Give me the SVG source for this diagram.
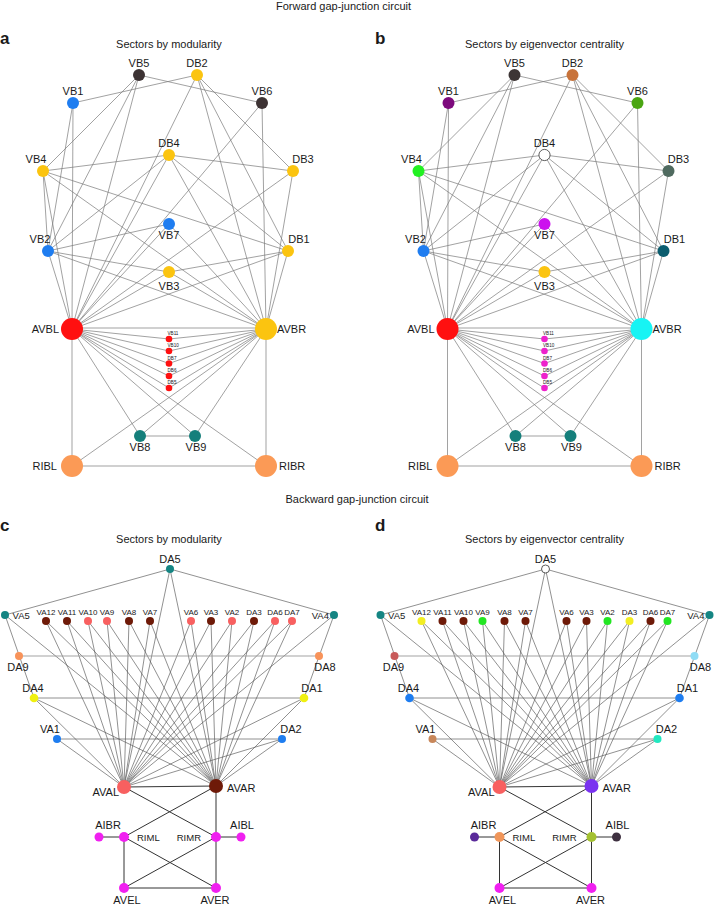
<svg xmlns="http://www.w3.org/2000/svg" xmlns:xlink="http://www.w3.org/1999/xlink" width="714" height="905" viewBox="0 0 714 905">
<style>
text{font-family:"Liberation Sans",Arial,Helvetica,sans-serif;fill:#1a1a1a}
.t{font-size:11px}
.m{text-anchor:middle}
.e{text-anchor:end}
.s{font-size:4.6px}
.r{font-size:8px;text-anchor:middle}
.rm{font-size:9.5px}
.h{font-size:11px;text-anchor:middle}
.p{font-size:17px;font-weight:bold}
.ef line{stroke:#7a7a7a;stroke-width:0.7}
.eb line{stroke:#555;stroke-width:0.65}
.eb .k{stroke:#333;stroke-width:1}
.eb .g{stroke:#999;stroke-width:0.9}
circle{stroke:none}
.w{fill:#fff;stroke:#333;stroke-width:0.8}
</style>
<defs>
<g id="fwd-edges" class="ef">
<line x1="73" y1="103" x2="197" y2="75"/>
<line x1="139" y1="75" x2="262" y2="103"/>
<line x1="139" y1="75" x2="43" y2="171"/>
<line x1="139" y1="75" x2="48" y2="251"/>
<line x1="139" y1="75" x2="72" y2="329"/>
<line x1="43" y1="171" x2="169" y2="155"/>
<line x1="169" y1="155" x2="293" y2="171"/>
<line x1="197" y1="75" x2="293" y2="171"/>
<line x1="197" y1="75" x2="288" y2="251"/>
<line x1="197" y1="75" x2="266" y2="329"/>
<line x1="197" y1="75" x2="72" y2="329"/>
<line x1="43" y1="171" x2="288" y2="251"/>
<line x1="43" y1="171" x2="48" y2="251"/>
<line x1="43" y1="171" x2="72" y2="329"/>
<line x1="43" y1="171" x2="266" y2="329"/>
<line x1="48" y1="251" x2="169" y2="224"/>
<line x1="48" y1="251" x2="169" y2="272"/>
<line x1="48" y1="251" x2="169" y2="155"/>
<line x1="48" y1="251" x2="72" y2="329"/>
<line x1="48" y1="251" x2="266" y2="329"/>
<line x1="169" y1="272" x2="288" y2="251"/>
<line x1="169" y1="272" x2="72" y2="329"/>
<line x1="169" y1="272" x2="266" y2="329"/>
<line x1="169" y1="224" x2="72" y2="329"/>
<line x1="169" y1="224" x2="266" y2="329"/>
<line x1="169" y1="155" x2="72" y2="329"/>
<line x1="169" y1="155" x2="266" y2="329"/>
<line x1="169" y1="155" x2="288" y2="251"/>
<line x1="262" y1="103" x2="266" y2="329"/>
<line x1="262" y1="103" x2="72" y2="329"/>
<line x1="293" y1="171" x2="72" y2="329"/>
<line x1="293" y1="171" x2="266" y2="329"/>
<line x1="288" y1="251" x2="72" y2="329"/>
<line x1="288" y1="251" x2="266" y2="329"/>
<line x1="73" y1="103" x2="72" y2="329"/>
<line x1="73" y1="103" x2="48" y2="251"/>
<line x1="72" y1="328" x2="266" y2="328"/>
<line x1="72" y1="329" x2="169" y2="339"/>
<line x1="72" y1="329" x2="169" y2="351"/>
<line x1="72" y1="329" x2="169" y2="363.5"/>
<line x1="72" y1="329" x2="169" y2="376"/>
<line x1="72" y1="329" x2="169" y2="388"/>
<line x1="266" y1="329" x2="169" y2="339"/>
<line x1="266" y1="329" x2="169" y2="351"/>
<line x1="266" y1="329" x2="169" y2="363.5"/>
<line x1="266" y1="329" x2="169" y2="376"/>
<line x1="266" y1="329" x2="169" y2="388"/>
<line x1="140" y1="436" x2="195" y2="436"/>
<line x1="140" y1="436" x2="72" y2="329"/>
<line x1="140" y1="436" x2="266" y2="329"/>
<line x1="195" y1="436" x2="72" y2="329"/>
<line x1="195" y1="436" x2="266" y2="329"/>
<line x1="72" y1="329" x2="72" y2="466"/>
<line x1="266" y1="329" x2="266" y2="466"/>
<line x1="72" y1="466" x2="266" y2="466"/>
<line x1="72" y1="329" x2="266" y2="466"/>
<line x1="266" y1="329" x2="72" y2="466"/>
</g>
<g id="bwd-edges" class="eb">
<line x1="170" y1="569" x2="5" y2="615"/>
<line x1="170" y1="569" x2="334" y2="615"/>
<line x1="170" y1="569" x2="124" y2="787"/>
<line x1="170" y1="569" x2="216" y2="786"/>
<line x1="5" y1="615" x2="34" y2="698"/>
<line x1="5" y1="615" x2="216" y2="786"/>
<line x1="334" y1="615" x2="304" y2="698"/>
<line x1="334" y1="615" x2="124" y2="787"/>
<line x1="46" y1="621" x2="124" y2="787"/><line x1="46" y1="621" x2="216" y2="786"/>
<line x1="67" y1="621" x2="124" y2="787"/><line x1="67" y1="621" x2="216" y2="786"/>
<line x1="88" y1="621" x2="124" y2="787"/><line x1="88" y1="621" x2="216" y2="786"/>
<line x1="107" y1="621" x2="124" y2="787"/><line x1="107" y1="621" x2="216" y2="786"/>
<line x1="129" y1="621" x2="124" y2="787"/><line x1="129" y1="621" x2="216" y2="786"/>
<line x1="150" y1="621" x2="124" y2="787"/><line x1="150" y1="621" x2="216" y2="786"/>
<line x1="191" y1="621" x2="124" y2="787"/><line x1="191" y1="621" x2="216" y2="786"/>
<line x1="211" y1="621" x2="124" y2="787"/><line x1="211" y1="621" x2="216" y2="786"/>
<line x1="232" y1="621" x2="124" y2="787"/><line x1="232" y1="621" x2="216" y2="786"/>
<line x1="254" y1="621" x2="124" y2="787"/><line x1="254" y1="621" x2="216" y2="786"/>
<line x1="275" y1="621" x2="124" y2="787"/><line x1="275" y1="621" x2="216" y2="786"/>
<line x1="292" y1="621" x2="124" y2="787"/><line x1="292" y1="621" x2="216" y2="786"/>
<line x1="34" y1="698" x2="304" y2="698"/>
<line x1="34" y1="698" x2="124" y2="787"/>
<line x1="34" y1="698" x2="216" y2="786"/>
<line x1="304" y1="698" x2="124" y2="787"/>
<line x1="304" y1="698" x2="216" y2="786"/>
<line x1="57" y1="739" x2="282" y2="739"/>
<line x1="57" y1="739" x2="124" y2="787"/>
<line x1="282" y1="739" x2="124" y2="787"/>
<line x1="282" y1="739" x2="216" y2="786"/>
<line class="g" x1="19" y1="656" x2="319" y2="656"/>
<line class="k" x1="124" y1="787" x2="216" y2="786"/>
<line class="k" x1="124" y1="787" x2="216" y2="837"/>
<line class="k" x1="216" y1="786" x2="124" y2="837"/>
<line class="k" x1="216" y1="786" x2="216" y2="837"/>
<line class="k" x1="99" y1="837" x2="124" y2="837"/>
<line class="k" x1="216" y1="837" x2="241" y2="837"/>
<line class="k" x1="124" y1="837" x2="124" y2="888"/>
<line class="k" x1="216" y1="837" x2="216" y2="888"/>
<line class="k" x1="124" y1="837" x2="216" y2="888"/>
<line class="k" x1="216" y1="837" x2="124" y2="888"/>
<line class="k" x1="124" y1="888" x2="216" y2="888"/>
</g>
</defs>

<g id="titles">
<text class="h" x="343.5" y="9.5">Forward gap-junction circuit</text>
<text class="h" x="357" y="503">Backward gap-junction circuit</text>
<text class="p" x="0" y="44">a</text>
<text class="p" x="375" y="44">b</text>
<text class="p" x="0" y="531">c</text>
<text class="p" x="375" y="531">d</text>
<text class="h" x="169" y="48">Sectors by modularity</text>
<text class="h" x="544.5" y="48">Sectors by eigenvector centrality</text>
<text class="h" x="169" y="543">Sectors by modularity</text>
<text class="h" x="544.5" y="543">Sectors by eigenvector centrality</text>
</g>

<g id="connectors-a"><use xlink:href="#fwd-edges"/></g>
<g id="connectors-b"><use xlink:href="#fwd-edges" transform="translate(375.5,0)"/></g>
<g id="connectors-c"><use xlink:href="#bwd-edges"/></g>
<g id="connectors-d"><use xlink:href="#bwd-edges" transform="translate(375.5,0)"/></g>

<g id="panel-a" class="t">
<g id="a-VB5"><circle cx="139" cy="75" r="6" fill="#3d3334"/><text class="m" x="139" y="67">VB5</text></g>
<g id="a-DB2"><circle cx="197" cy="75" r="6" fill="#fbc410"/><text class="m" x="197" y="67">DB2</text></g>
<g id="a-VB1"><circle cx="73" cy="103" r="6" fill="#1f7df0"/><text class="m" x="73" y="95">VB1</text></g>
<g id="a-VB6"><circle cx="262" cy="103" r="6" fill="#3d3334"/><text class="m" x="262" y="95">VB6</text></g>
<g id="a-DB4"><circle cx="169" cy="155" r="6" fill="#fbc410"/><text class="m" x="169" y="147">DB4</text></g>
<g id="a-VB4"><circle cx="43" cy="171" r="6" fill="#fbc410"/><text class="m" x="36" y="163">VB4</text></g>
<g id="a-DB3"><circle cx="293" cy="171" r="6" fill="#fbc410"/><text class="m" x="303" y="163">DB3</text></g>
<g id="a-VB7"><circle cx="169" cy="224" r="6" fill="#1f7df0"/><text class="m" x="169" y="239">VB7</text></g>
<g id="a-VB2"><circle cx="48" cy="251" r="6" fill="#1f7df0"/><text class="m" x="40" y="243">VB2</text></g>
<g id="a-DB1"><circle cx="288" cy="251" r="6" fill="#fbc410"/><text class="m" x="299" y="243">DB1</text></g>
<g id="a-VB3"><circle cx="169" cy="272" r="6" fill="#fbc410"/><text class="m" x="169" y="290">VB3</text></g>
<g id="a-AVBL"><circle cx="72" cy="329" r="11" fill="#ff1010"/><text class="e" x="59" y="333">AVBL</text></g>
<g id="a-AVBR"><circle cx="266" cy="329" r="11" fill="#fbc410"/><text x="277" y="333">AVBR</text></g>
<g id="a-VB11"><circle cx="169" cy="339" r="3.3" fill="#ff1010"/><text class="s" x="167.5" y="335.3">VB11</text></g>
<g id="a-VB10"><circle cx="169" cy="351" r="3.3" fill="#ff1010"/><text class="s" x="167.5" y="347.3">VB10</text></g>
<g id="a-DB7"><circle cx="169" cy="363.5" r="3.3" fill="#ff1010"/><text class="s" x="167.5" y="359.8">DB7</text></g>
<g id="a-DB6"><circle cx="169" cy="376" r="3.3" fill="#ff1010"/><text class="s" x="167.5" y="372.3">DB6</text></g>
<g id="a-DB5"><circle cx="169" cy="388" r="3.3" fill="#ff1010"/><text class="s" x="167.5" y="384.3">DB5</text></g>
<g id="a-VB8"><circle cx="140" cy="436" r="6" fill="#157f7b"/><text class="m" x="140" y="451">VB8</text></g>
<g id="a-VB9"><circle cx="195" cy="436" r="6" fill="#157f7b"/><text class="m" x="196" y="451">VB9</text></g>
<g id="a-RIBL"><circle cx="72" cy="466" r="11" fill="#fb9a56"/><text class="e" x="57" y="470">RIBL</text></g>
<g id="a-RIBR"><circle cx="266" cy="466" r="11" fill="#fb9a56"/><text x="279" y="470">RIBR</text></g>
</g>

<g id="panel-b" class="t" transform="translate(375.5,0)">
<g id="b-VB5"><circle cx="139" cy="75" r="6" fill="#3d3535"/><text class="m" x="139" y="67">VB5</text></g>
<g id="b-DB2"><circle cx="197" cy="75" r="6" fill="#c8733a"/><text class="m" x="197" y="67">DB2</text></g>
<g id="b-VB1"><circle cx="73" cy="103" r="6" fill="#7d0a7d"/><text class="m" x="73" y="95">VB1</text></g>
<g id="b-VB6"><circle cx="262" cy="103" r="6" fill="#4aa512"/><text class="m" x="262" y="95">VB6</text></g>
<g id="b-DB4"><circle class="w" cx="169" cy="155" r="5.6"/><text class="m" x="169" y="147">DB4</text></g>
<g id="b-VB4"><circle cx="43" cy="171" r="6" fill="#22f022"/><text class="m" x="36" y="163">VB4</text></g>
<g id="b-DB3"><circle cx="293" cy="171" r="6" fill="#4f6a5f"/><text class="m" x="303" y="163">DB3</text></g>
<g id="b-VB7"><circle cx="169" cy="224" r="6" fill="#cc11ee"/><text class="m" x="169" y="239">VB7</text></g>
<g id="b-VB2"><circle cx="48" cy="251" r="6" fill="#1f7df0"/><text class="m" x="40" y="243">VB2</text></g>
<g id="b-DB1"><circle cx="288" cy="251" r="6" fill="#0c5d6e"/><text class="m" x="299" y="243">DB1</text></g>
<g id="b-VB3"><circle cx="169" cy="272" r="6" fill="#fbc410"/><text class="m" x="169" y="290">VB3</text></g>
<g id="b-AVBL"><circle cx="72" cy="329" r="11" fill="#ff1010"/><text class="e" x="59" y="333">AVBL</text></g>
<g id="b-AVBR"><circle cx="266" cy="329" r="11" fill="#17f4f4"/><text x="277" y="333">AVBR</text></g>
<g id="b-VB11"><circle cx="169" cy="339" r="3.3" fill="#ee22cc"/><text class="s" x="167.5" y="335.3">VB11</text></g>
<g id="b-VB10"><circle cx="169" cy="351" r="3.3" fill="#ee22cc"/><text class="s" x="167.5" y="347.3">VB10</text></g>
<g id="b-DB7"><circle cx="169" cy="363.5" r="3.3" fill="#ee22cc"/><text class="s" x="167.5" y="359.8">DB7</text></g>
<g id="b-DB6"><circle cx="169" cy="376" r="3.3" fill="#ee22cc"/><text class="s" x="167.5" y="372.3">DB6</text></g>
<g id="b-DB5"><circle cx="169" cy="388" r="3.3" fill="#ee22cc"/><text class="s" x="167.5" y="384.3">DB5</text></g>
<g id="b-VB8"><circle cx="140" cy="436" r="6" fill="#157f7b"/><text class="m" x="140" y="451">VB8</text></g>
<g id="b-VB9"><circle cx="195" cy="436" r="6" fill="#157f7b"/><text class="m" x="196" y="451">VB9</text></g>
<g id="b-RIBL"><circle cx="72" cy="466" r="11" fill="#fb9a56"/><text class="e" x="57" y="470">RIBL</text></g>
<g id="b-RIBR"><circle cx="266" cy="466" r="11" fill="#fb9a56"/><text x="279" y="470">RIBR</text></g>
</g>

<g id="panel-c" class="t">
<g id="c-DA5"><circle cx="170" cy="569" r="4" fill="#158583"/><text class="m" x="170" y="563">DA5</text></g>
<g id="c-VA5"><circle cx="5" cy="615" r="4" fill="#158583"/><text x="12.5" y="619" style="font-size:9.5px">VA5</text></g>
<g id="c-VA4"><circle cx="334" cy="615" r="4" fill="#158583"/><text class="e" x="329" y="619" style="font-size:9.5px">VA4</text></g>
<g id="c-VA12"><circle cx="46" cy="621" r="4" fill="#6e1a08"/><text class="r" x="46" y="615">VA12</text></g>
<g id="c-VA11"><circle cx="67" cy="621" r="4" fill="#6e1a08"/><text class="r" x="67" y="615">VA11</text></g>
<g id="c-VA10"><circle cx="88" cy="621" r="4" fill="#f86060"/><text class="r" x="88" y="615">VA10</text></g>
<g id="c-VA9"><circle cx="107" cy="621" r="4" fill="#f86060"/><text class="r" x="107" y="615">VA9</text></g>
<g id="c-VA8"><circle cx="129" cy="621" r="4" fill="#6e1a08"/><text class="r" x="129" y="615">VA8</text></g>
<g id="c-VA7"><circle cx="150" cy="621" r="4" fill="#6e1a08"/><text class="r" x="150" y="615">VA7</text></g>
<g id="c-VA6"><circle cx="191" cy="621" r="4" fill="#f86060"/><text class="r" x="191" y="615">VA6</text></g>
<g id="c-VA3"><circle cx="211" cy="621" r="4" fill="#6e1a08"/><text class="r" x="211" y="615">VA3</text></g>
<g id="c-VA2"><circle cx="232" cy="621" r="4" fill="#f86060"/><text class="r" x="232" y="615">VA2</text></g>
<g id="c-DA3"><circle cx="254" cy="621" r="4" fill="#6e1a08"/><text class="r" x="254" y="615">DA3</text></g>
<g id="c-DA6"><circle cx="275" cy="621" r="4" fill="#f86060"/><text class="r" x="275" y="615">DA6</text></g>
<g id="c-DA7"><circle cx="292" cy="621" r="4" fill="#f86060"/><text class="r" x="292" y="615">DA7</text></g>
<g id="c-DA9"><circle cx="19" cy="656" r="4" fill="#f8935a"/><text class="m" x="18" y="671">DA9</text></g>
<g id="c-DA8"><circle cx="319" cy="656" r="4" fill="#f8935a"/><text class="m" x="325" y="671">DA8</text></g>
<g id="c-DA4"><circle cx="34" cy="698" r="4.3" fill="#f0f010"/><text class="m" x="33" y="692">DA4</text></g>
<g id="c-DA1"><circle cx="304" cy="698" r="4.3" fill="#f0f010"/><text class="m" x="312" y="692">DA1</text></g>
<g id="c-VA1"><circle cx="57" cy="739" r="4" fill="#1e7df0"/><text class="m" x="50" y="733">VA1</text></g>
<g id="c-DA2"><circle cx="282" cy="739" r="4" fill="#1e7df0"/><text class="m" x="291" y="733">DA2</text></g>
<g id="c-AVAL"><circle cx="124" cy="787" r="7" fill="#f86060"/><text class="e" x="119" y="796">AVAL</text></g>
<g id="c-AVAR"><circle cx="216" cy="786" r="7" fill="#6e1a08"/><text x="227" y="792">AVAR</text></g>
<g id="c-AIBR"><circle cx="99" cy="837" r="4.5" fill="#f020f0"/><text class="m" x="108" y="829">AIBR</text></g>
<g id="c-RIML"><circle cx="124" cy="837" r="5" fill="#f020f0"/><text class="rm" x="137" y="840.5">RIML</text></g>
<g id="c-RIMR"><circle cx="216" cy="837" r="5" fill="#f020f0"/><text class="rm e" x="201" y="840.5">RIMR</text></g>
<g id="c-AIBL"><circle cx="241" cy="837" r="4.5" fill="#f020f0"/><text class="m" x="242" y="829">AIBL</text></g>
<g id="c-AVEL"><circle cx="124" cy="888" r="5" fill="#f020f0"/><text class="m" x="127" y="904">AVEL</text></g>
<g id="c-AVER"><circle cx="216" cy="888" r="5" fill="#f020f0"/><text class="m" x="215" y="904">AVER</text></g>
</g>

<g id="panel-d" class="t" transform="translate(375.5,0)">
<g id="d-DA5"><circle class="w" cx="170" cy="569" r="4"/><text class="m" x="170" y="563">DA5</text></g>
<g id="d-VA5"><circle cx="5" cy="615" r="4" fill="#158583"/><text x="12.5" y="619" style="font-size:9.5px">VA5</text></g>
<g id="d-VA4"><circle cx="334" cy="615" r="4" fill="#158583"/><text class="e" x="329" y="619" style="font-size:9.5px">VA4</text></g>
<g id="d-VA12"><circle cx="46" cy="621" r="4" fill="#f2ee22"/><text class="r" x="46" y="615">VA12</text></g>
<g id="d-VA11"><circle cx="67" cy="621" r="4" fill="#6e1a08"/><text class="r" x="67" y="615">VA11</text></g>
<g id="d-VA10"><circle cx="88" cy="621" r="4" fill="#6e1a08"/><text class="r" x="88" y="615">VA10</text></g>
<g id="d-VA9"><circle cx="107" cy="621" r="4" fill="#22e622"/><text class="r" x="107" y="615">VA9</text></g>
<g id="d-VA8"><circle cx="129" cy="621" r="4" fill="#6e1a08"/><text class="r" x="129" y="615">VA8</text></g>
<g id="d-VA7"><circle cx="150" cy="621" r="4" fill="#6e1a08"/><text class="r" x="150" y="615">VA7</text></g>
<g id="d-VA6"><circle cx="191" cy="621" r="4" fill="#6e1a08"/><text class="r" x="191" y="615">VA6</text></g>
<g id="d-VA3"><circle cx="211" cy="621" r="4" fill="#6e1a08"/><text class="r" x="211" y="615">VA3</text></g>
<g id="d-VA2"><circle cx="232" cy="621" r="4" fill="#22e622"/><text class="r" x="232" y="615">VA2</text></g>
<g id="d-DA3"><circle cx="254" cy="621" r="4" fill="#f2ee22"/><text class="r" x="254" y="615">DA3</text></g>
<g id="d-DA6"><circle cx="275" cy="621" r="4" fill="#6e1a08"/><text class="r" x="275" y="615">DA6</text></g>
<g id="d-DA7"><circle cx="292" cy="621" r="4" fill="#22e622"/><text class="r" x="292" y="615">DA7</text></g>
<g id="d-DA9"><circle cx="19" cy="656" r="4" fill="#c85a5a"/><text class="m" x="18" y="671">DA9</text></g>
<g id="d-DA8"><circle cx="319" cy="656" r="4" fill="#8fdcf5"/><text class="m" x="325" y="671">DA8</text></g>
<g id="d-DA4"><circle cx="34" cy="698" r="4.3" fill="#1e7df0"/><text class="m" x="33" y="692">DA4</text></g>
<g id="d-DA1"><circle cx="304" cy="698" r="4.3" fill="#1e7df0"/><text class="m" x="312" y="692">DA1</text></g>
<g id="d-VA1"><circle cx="57" cy="739" r="4" fill="#c8875a"/><text class="m" x="50" y="733">VA1</text></g>
<g id="d-DA2"><circle cx="282" cy="739" r="4" fill="#22e8c0"/><text class="m" x="291" y="733">DA2</text></g>
<g id="d-AVAL"><circle cx="124" cy="787" r="7" fill="#f86060"/><text class="e" x="119" y="796">AVAL</text></g>
<g id="d-AVAR"><circle cx="216" cy="786" r="7" fill="#7a33f0"/><text x="227" y="792">AVAR</text></g>
<g id="d-AIBR"><circle cx="99" cy="837" r="4.5" fill="#5a2a9a"/><text class="m" x="108" y="829">AIBR</text></g>
<g id="d-RIML"><circle cx="124" cy="837" r="5" fill="#f0965a"/><text class="rm" x="137" y="840.5">RIML</text></g>
<g id="d-RIMR"><circle cx="216" cy="837" r="5" fill="#a4c132"/><text class="rm e" x="201" y="840.5">RIMR</text></g>
<g id="d-AIBL"><circle cx="241" cy="837" r="4.5" fill="#3e3040"/><text class="m" x="242" y="829">AIBL</text></g>
<g id="d-AVEL"><circle cx="124" cy="888" r="5" fill="#f020f0"/><text class="m" x="127" y="904">AVEL</text></g>
<g id="d-AVER"><circle cx="216" cy="888" r="5" fill="#f020f0"/><text class="m" x="215" y="904">AVER</text></g>
</g>
</svg>
